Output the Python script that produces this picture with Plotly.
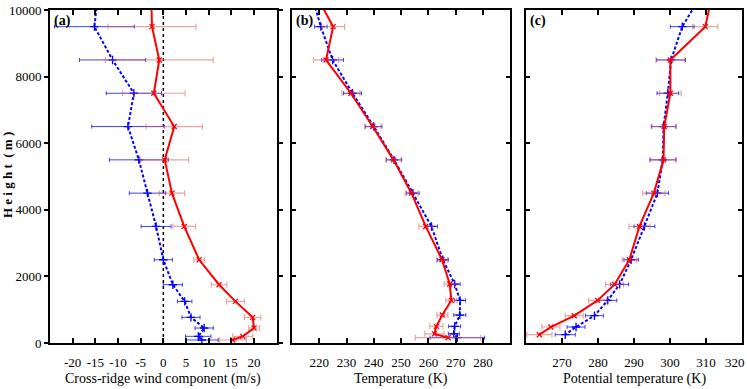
import plotly.graph_objects as go

# ---------------- data ----------------
# (a) cross-ridge wind component (m/s)
heights_a = [10500, 9500, 8500, 7500, 6500, 5500, 4500, 3500, 2500, 1750, 1250, 770, 450, 200, 90]
red_wind = [-2.7, -2.5, -0.9, -2.1, 2.4, 0.3, 1.9, 4.6, 7.9, 12.3, 15.9, 19.7, 20.0, 17.5, 15.3]
red_wind_err = [0, 9.7, 11.9, 6.9, 6.2, 5.3, 2.8, 2.5, 1.2, 1.7, 2.0, 1.8, 1.2, 2.2, 3.0]
blue_wind = [-14.4, -15.2, -11.2, -6.5, -7.8, -5.4, -3.5, -1.6, 0.0, 2.1, 4.7, 6.1, 9.0, 7.7, 8.5]
blue_wind_err = [0, 8.8, 7.3, 6.1, 8.0, 6.5, 4.0, 3.3, 2.0, 2.1, 1.6, 2.0, 2.0, 2.8, 3.6]

# (b) temperature (K)
heights_b = [10500, 9500, 8500, 7500, 6500, 5500, 4500, 3500, 2500, 1770, 1280, 840, 500, 275, 160]
red_temp = [218.5, 225.1, 222.5, 231.6, 239.6, 247.2, 253.8, 259.0, 265.0, 267.8, 268.4, 265.1, 262.9, 262.2, 267.2]
red_temp_err = [0, 4.2, 4.6, 3.3, 3.0, 2.8, 2.3, 2.5, 2.0, 2.0, 2.0, 2.0, 2.4, 3.5, 12.0]
blue_temp = [217.0, 220.6, 224.9, 232.2, 240.0, 247.4, 254.3, 261.1, 265.3, 269.6, 271.6, 271.5, 269.6, 269.3, 270.6]
blue_temp_err = [0, 2.3, 4.0, 3.3, 3.0, 2.8, 2.3, 2.2, 2.0, 2.0, 2.0, 2.2, 2.2, 2.0, 10.0]

# (c) potential temperature (K)
heights_c = [10500, 9500, 8500, 7500, 6500, 5500, 4500, 3500, 2500, 1760, 1280, 820, 480, 250]
red_theta = [311.8, 309.8, 300.1, 300.1, 298.4, 298.2, 295.5, 291.5, 288.7, 284.6, 279.9, 273.4, 266.9, 263.7]
red_theta_err = [0, 3.5, 4.0, 3.0, 3.4, 3.6, 3.1, 2.9, 2.0, 2.5, 2.5, 2.5, 2.5, 3.5]
blue_theta = [309.0, 303.4, 300.3, 299.4, 298.2, 298.0, 296.5, 292.9, 289.2, 286.0, 282.7, 279.0, 273.9, 270.9]
blue_theta_err = [0, 3.3, 4.0, 3.0, 3.4, 3.6, 3.1, 2.9, 2.0, 2.5, 2.5, 2.5, 2.5, 2.8]

# axis ticks
wind_ticks = [-20, -15, -10, -5, 0, 5, 10, 15, 20]
temp_ticks = [220, 230, 240, 250, 260, 270, 280]
theta_ticks = [270, 280, 290, 300, 310, 320]
height_ticks = [0, 2000, 4000, 6000, 8000, 10000]
height_labels = ["0", "2000", "4000", "6000", "8000", "10000"]

# ---------------- figure ----------------
RED = "#ff0000"
BLUE = "#0000ff"

fig = go.Figure()


def add_pair(xa, ya, xb, eb, xr, er, y_r, y_b):
    fig.add_trace(go.Scatter(
        x=xb, y=y_b, xaxis=xa, yaxis=ya, mode="lines+markers",
        line=dict(color=BLUE, width=2, dash="3px,2px"),
        marker=dict(symbol="cross-thin", size=6, color=BLUE, line=dict(color=BLUE, width=1.3)),
        error_x=dict(type="data", array=eb, color="rgba(20,20,230,0.8)", thickness=1, width=2),
        hoverinfo="x+y",
    ))
    fig.add_trace(go.Scatter(
        x=xr, y=y_r, xaxis=xa, yaxis=ya, mode="lines+markers",
        line=dict(color=RED, width=2),
        marker=dict(symbol="x-thin", size=5, color=RED, line=dict(color=RED, width=1.3)),
        error_x=dict(type="data", array=er, color="rgba(215,90,90,0.55)", thickness=1.2, width=3),
        hoverinfo="x+y",
    ))


add_pair("x", "y", blue_wind, blue_wind_err, red_wind, red_wind_err, heights_a, heights_a)
add_pair("x2", "y2", blue_temp, blue_temp_err, red_temp, red_temp_err, heights_b, heights_b)
add_pair("x3", "y3", blue_theta, blue_theta_err, red_theta, red_theta_err, heights_c, heights_c)

FONT = "Liberation Serif"
axis_common = dict(showline=True, linewidth=2, linecolor="black", mirror="ticks",
                   showgrid=False, zeroline=False, tickcolor="black", tickwidth=1.5)

xcommon = dict(axis_common, ticks="inside", ticklen=5, ticklabelstandoff=6,
               tickfont=dict(family=FONT, size=13, color="black"))
ycommon = dict(axis_common, range=[0, 10000], tickvals=height_ticks)

# the last theta label sits at the figure's right edge; it is drawn as an annotation
theta_text = [str(v) for v in theta_ticks[:-1]] + [""]

fig.update_layout(
    width=747, height=389,
    margin=dict(l=50, r=4, t=3, b=46),
    paper_bgcolor="white", plot_bgcolor="white",
    showlegend=False,
    font=dict(family=FONT, size=13, color="black"),
    xaxis=dict(xcommon, domain=[0, 0.3276], range=[-25, 25], tickvals=wind_ticks,
               ticktext=[str(v) for v in wind_ticks], anchor="y"),
    yaxis=dict(ycommon, domain=[0, 1], anchor="x", ticks="outside", ticklen=4,
               ticktext=height_labels, ticklabeloverflow="allow",
               tickfont=dict(family=FONT, size=13, color="black")),
    xaxis2=dict(xcommon, domain=[0.3496, 0.6652], range=[210, 290], tickvals=temp_ticks,
                ticktext=[str(v) for v in temp_ticks], anchor="y2"),
    yaxis2=dict(ycommon, domain=[0, 1], anchor="x2", ticks="inside", ticklen=4, showticklabels=False),
    xaxis3=dict(xcommon, domain=[0.6879, 1.0], range=[260, 320], tickvals=theta_ticks,
                ticktext=theta_text, anchor="y3"),
    yaxis3=dict(ycommon, domain=[0, 1], anchor="x3", ticks="inside", ticklen=4, showticklabels=False),
)

# zero line in panel (a)
fig.add_shape(type="line", xref="x", yref="y domain", x0=0, x1=0, y0=0, y1=1,
              line=dict(color="black", width=1.5, dash="dot"), layer="below")

# axis titles and panel labels
ann = []
for xc, txt in [((0 + 0.3276) / 2, "Cross-ridge wind component (m/s)"),
                ((0.3496 + 0.6652) / 2, "Temperature (K)"),
                ((0.6879 + 1.0) / 2, "Potential temperature (K)")]:
    ann.append(dict(xref="paper", yref="paper", x=xc, y=-0.109, text=txt, showarrow=False,
                    xanchor="center", yanchor="middle", font=dict(family=FONT, size=14, color="black")))
ann.append(dict(xref="paper", yref="paper", x=-0.0613, y=0.503, text="<b>H e i g h t  ( m )</b>",
                textangle=-90, showarrow=False, xanchor="center", yanchor="middle",
                font=dict(family=FONT, size=13, color="black")))
for xp, lab in [(0.003, "(a)"), (0.3525, "(b)"), (0.6905, "(c)")]:
    ann.append(dict(xref="paper", yref="paper", x=xp, y=0.997, text="<b>%s</b>" % lab, showarrow=False,
                    xanchor="left", yanchor="top", font=dict(family=FONT, size=14, color="black")))
ann.append(dict(xref="paper", yref="paper", x=1.0058, y=-0.058, text=str(theta_ticks[-1]),
                showarrow=False, xanchor="right", yanchor="middle", borderpad=0, xshift=0,
                font=dict(family=FONT, size=13, color="black")))
fig.update_layout(annotations=ann)

fig.write_html("out.html", config={"displayModeBar": False},
               post_script="document.body.style.margin='0';document.body.style.overflow='hidden';")
